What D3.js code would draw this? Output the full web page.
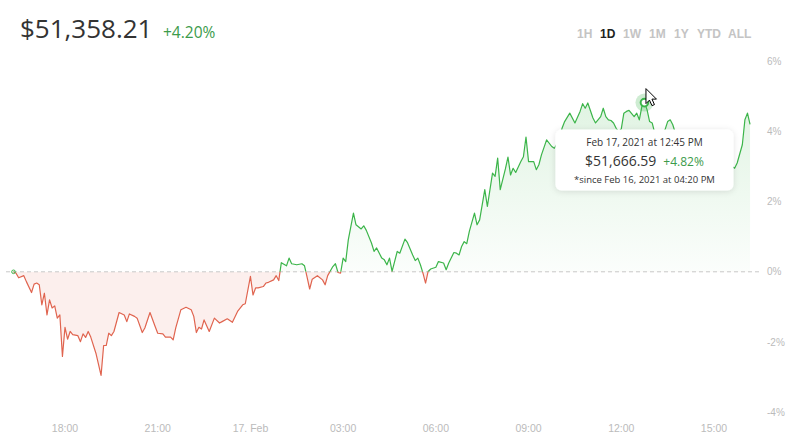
<!DOCTYPE html>
<html>
<head>
<meta charset="utf-8">
<script src="https://cdn.jsdelivr.net/npm/d3@7"></script>
<style>
  body { margin: 0; background: #fff; }
  svg { display: block; }
</style>
</head>
<body>
<div class="chart"></div>
<script>
// set the dimensions of the graph
const width = 796;
const height = 448;

// header values
const currentPrice = "$51,358.21";
const currentChange = 4.20;

// periods shown on the top right
const periods = ["1H", "1D", "1W", "1M", "1Y", "YTD", "ALL"];
const activePeriod = "1D";

// price change (%) since Feb 16, 2021 16:20
const times = [
  "16:20","16:25","16:30","16:40","16:45","16:55","17:00","17:05","17:10","17:15",
  "17:20","17:25","17:30","17:35","17:40","17:45","17:50","17:55","18:00","18:05",
  "18:10","18:15","18:25","18:30","18:35","18:40","18:45","18:50","19:00","19:10",
  "19:15","19:20","19:25","19:30","19:35","19:45","19:55","20:00","20:05","20:15",
  "20:20","20:30","20:35","20:45","20:55","21:00","21:10","21:15","21:25","21:30",
  "21:35","21:45","21:55","22:05","22:10","22:15","22:20","22:25","22:30","22:40",
  "22:50","23:00","23:05","23:15","23:25","23:35","23:45","23:50","00:00","00:05",
  "00:10","00:15","00:25","00:30","00:35","00:45","00:50","00:55","01:00","01:10",
  "01:15","01:20","01:30","01:40","01:45","01:50","01:55","02:00","02:10","02:20",
  "02:25","02:30","02:40","02:45","02:50","02:55","03:00","03:05","03:10","03:20",
  "03:25","03:35","03:40","03:45","03:55","04:00","04:05","04:15","04:20","04:25",
  "04:30","04:35","04:45","04:50","05:00","05:05","05:15","05:20","05:25","05:30",
  "05:35","05:40","05:45","05:50","06:00","06:05","06:15","06:20","06:25","06:35",
  "06:40","06:45","06:50","06:55","07:00","07:05","07:15","07:20","07:25","07:35",
  "07:40","07:50","07:55","08:00","08:05","08:15","08:20","08:25","08:30","08:35",
  "08:45","08:50","08:55","09:00","09:10","09:15","09:20","09:25","09:35","09:45",
  "09:50","10:00","10:05","10:10","10:20","10:30","10:40","10:45","10:50","10:55",
  "11:05","11:10","11:20","11:25","11:30","11:35","11:40","11:45","11:50","11:55",
  "12:00","12:05","12:10","12:15","12:25","12:30","12:35","12:40","12:45","12:50",
  "12:55","13:00","13:05","13:15","13:25","13:30","13:35","13:40","13:45","13:50",
  "14:00","14:10","14:20","14:30","14:40","14:50","15:00","15:10","15:20","15:30",
  "15:40","15:45","15:55","16:00","16:05","16:10"
];
const changes = [
  0.00,-0.04,-0.17,-0.11,-0.28,-0.59,-0.35,-0.32,-0.37,-0.94,
  -0.61,-1.23,-0.80,-1.03,-0.97,-1.32,-1.23,-2.41,-1.58,-1.92,
  -1.70,-1.79,-1.82,-1.99,-1.77,-1.87,-1.70,-1.86,-2.32,-2.95,
  -2.10,-2.10,-1.75,-1.82,-1.70,-1.16,-1.23,-1.42,-1.20,-1.27,
  -1.32,-1.73,-1.60,-1.16,-1.56,-1.75,-1.77,-1.86,-1.86,-1.94,
  -1.60,-1.08,-1.01,-1.08,-1.27,-1.73,-1.58,-1.63,-1.37,-1.70,
  -1.32,-1.46,-1.42,-1.34,-1.44,-1.13,-0.94,-0.91,-0.13,-0.66,
  -0.46,-0.46,-0.42,-0.32,-0.30,-0.23,-0.11,-0.25,0.26,0.17,
  0.39,0.23,0.20,0.23,0.17,-0.15,-0.49,-0.21,-0.11,-0.23,
  -0.37,-0.11,0.15,0.23,-0.02,-0.04,0.39,0.29,0.91,1.67,
  1.34,1.22,1.31,1.18,0.82,0.58,0.68,0.39,0.34,0.20,
  0.39,0.01,0.58,0.53,0.93,0.83,0.48,0.32,0.39,0.20,
  -0.04,-0.32,0.01,0.08,0.13,0.29,0.25,0.06,0.25,0.55,
  0.53,0.48,0.72,0.86,0.80,1.15,1.67,1.34,1.48,2.34,
  1.86,2.81,2.72,3.24,2.34,2.93,3.27,2.76,2.95,2.83,
  3.14,3.28,3.84,3.14,3.14,2.91,3.05,3.33,3.76,3.57,
  3.52,3.75,4.09,4.28,4.52,4.24,4.57,4.79,4.66,4.81,
  4.38,4.24,4.42,4.66,4.42,4.33,4.31,4.24,4.09,3.99,
  4.07,4.52,4.57,4.60,4.42,4.52,4.33,4.71,4.82,4.62,
  4.28,4.24,3.95,3.90,4.05,4.28,4.33,4.19,3.95,3.80,
  3.90,3.65,3.80,3.50,3.65,3.40,3.55,3.25,3.35,3.05,
  2.95,3.10,3.62,4.33,4.52,4.20
];

// hovered point shown in the tooltip
const hoverTime = "12:45";
const hoverPrice = "$51,666.59";

// axis ticks
const yTicks = [-4, -2, 0, 2, 4, 6];
const xTickHours = 3;

// build dates: the day moves on when the clock wraps past midnight
let dayOffset = 0, prevMinutes = -1;
const data = times.map(function(t, i) {
  const [h, m] = t.split(":").map(Number);
  const minutes = h * 60 + m;
  if (minutes < prevMinutes) dayOffset++;
  prevMinutes = minutes;
  return { date: new Date(2021, 1, 16 + dayOffset, h, m), value: changes[i], label: t };
});

const start = data[0].date;
const end = d3.timeHour.offset(start, 24);

const x = d3.scaleTime().domain([start, end]).range([13.5, 755.2]);
const y = d3.scaleLinear().domain([-4, 6]).range([412.2, 61.2]);

const svg = d3.select(".chart")
  .append("svg")
    .attr("width", width)
    .attr("height", height)
    .style("font-family", "'Open Sans', sans-serif");

const defs = svg.append("defs");

// clip areas above and below the zero line
defs.append("clipPath").attr("id", "above")
  .append("rect").attr("x", 0).attr("y", 0).attr("width", width).attr("height", y(0));
defs.append("clipPath").attr("id", "below")
  .append("rect").attr("x", 0).attr("y", y(0)).attr("width", width).attr("height", height - y(0));

const grad = defs.append("linearGradient")
  .attr("id", "greenFill")
  .attr("gradientUnits", "userSpaceOnUse")
  .attr("x1", 0).attr("x2", 0)
  .attr("y1", y(5)).attr("y2", y(0));
grad.append("stop").attr("offset", 0).attr("stop-color", "#3cb54a").attr("stop-opacity", 0.16);
grad.append("stop").attr("offset", 1).attr("stop-color", "#3cb54a").attr("stop-opacity", 0.02);

const shadow = defs.append("filter").attr("id", "shadow")
  .attr("x", "-20%").attr("y", "-30%").attr("width", "140%").attr("height", "160%");
shadow.append("feDropShadow")
  .attr("dx", 0).attr("dy", 1).attr("stdDeviation", 3)
  .attr("flood-color", "#000").attr("flood-opacity", 0.12);

// header
svg.append("text")
  .attr("x", 20).attr("y", 38)
  .attr("font-size", 26)
  .attr("fill", "#333")
  .text(currentPrice);
svg.append("text")
  .attr("x", 163).attr("y", 38)
  .attr("font-size", 15.5)
  .attr("fill", "#3c9b4b")
  .text("+" + currentChange.toFixed(2) + "%");

// period buttons
const periodX = [577, 600, 623, 649, 674, 697, 728];
svg.append("g")
  .selectAll("text")
  .data(periods)
  .join("text")
    .attr("x", function(d, i) { return periodX[i]; })
    .attr("y", 38)
    .attr("font-family", "Arial, 'Liberation Sans', sans-serif")
    .attr("font-weight", "bold")
    .attr("font-size", 12)
    .attr("fill", function(d) { return d === activePeriod ? "#222" : "#c4c4c4"; })
    .text(function(d) { return d; });

// areas
const area = d3.area()
  .x(function(d) { return x(d.date); })
  .y0(y(0))
  .y1(function(d) { return y(d.value); });

svg.append("path")
  .datum(data)
  .attr("clip-path", "url(#above)")
  .attr("fill", "url(#greenFill)")
  .attr("d", area);

svg.append("path")
  .datum(data)
  .attr("clip-path", "url(#below)")
  .attr("fill", "#e8705c")
  .attr("fill-opacity", 0.11)
  .attr("d", area);

// zero line
svg.append("line")
  .attr("x1", 6).attr("x2", 760)
  .attr("y1", y(0)).attr("y2", y(0))
  .attr("stroke", "#c8c8c8")
  .attr("stroke-dasharray", "4,3");

// lines
const line = d3.line()
  .x(function(d) { return x(d.date); })
  .y(function(d) { return y(d.value); });

svg.append("path")
  .datum(data)
  .attr("clip-path", "url(#above)")
  .attr("fill", "none")
  .attr("stroke", "#3cb54a")
  .attr("stroke-width", 1.2)
  .attr("stroke-linejoin", "round")
  .attr("d", line);

svg.append("path")
  .datum(data)
  .attr("clip-path", "url(#below)")
  .attr("fill", "none")
  .attr("stroke", "#e0644f")
  .attr("stroke-width", 1.2)
  .attr("stroke-linejoin", "round")
  .attr("d", line);

// start marker
svg.append("circle")
  .attr("cx", x(data[0].date)).attr("cy", y(data[0].value))
  .attr("r", 1.8)
  .attr("fill", "none")
  .attr("stroke", "#3cb54a")
  .attr("stroke-width", 1);

// y axis labels
svg.append("g")
  .selectAll("text")
  .data(yTicks)
  .join("text")
    .attr("x", 767)
    .attr("y", function(d) { return y(d) + 3.5; })
    .attr("font-family", "Arial, 'Liberation Sans', sans-serif")
    .attr("font-size", 10)
    .attr("fill", "#bbb")
    .text(function(d) { return d + "%"; });

// x axis labels
const xTicks = x.ticks(d3.timeHour.every(xTickHours));
svg.append("g")
  .selectAll("text")
  .data(xTicks)
  .join("text")
    .attr("x", function(d) { return x(d); })
    .attr("y", 432)
    .attr("text-anchor", "middle")
    .attr("font-family", "Arial, 'Liberation Sans', sans-serif")
    .attr("font-size", 10.5)
    .attr("fill", "#bbb")
    .text(function(d) {
      return d.getHours() === 0 ? d3.timeFormat("%-d. %b")(d) : d3.timeFormat("%H:%M")(d);
    });

// hovered point
const hover = data.find(function(d) { return d.label === hoverTime; });
const hx = x(hover.date), hy = y(hover.value);

svg.append("circle")
  .attr("cx", hx).attr("cy", hy).attr("r", 9)
  .attr("fill", "#3cb54a").attr("fill-opacity", 0.25);
svg.append("circle")
  .attr("cx", hx).attr("cy", hy).attr("r", 3.8)
  .attr("fill", "#fff")
  .attr("stroke", "#3cb54a")
  .attr("stroke-width", 2);

// tooltip
const tip = svg.append("g").attr("transform", "translate(" + hx + "," + (hy + 27) + ")");
tip.append("rect")
  .attr("x", -89).attr("y", 0)
  .attr("width", 178).attr("height", 61)
  .attr("rx", 6)
  .attr("fill", "#fff")
  .attr("filter", "url(#shadow)");
tip.append("text")
  .attr("x", 0).attr("y", 16.5)
  .attr("text-anchor", "middle")
  .attr("font-size", 10)
  .attr("fill", "#333")
  .text(d3.timeFormat("%b %d, %Y at %I:%M %p")(hover.date));
const priceLine = tip.append("text")
  .attr("x", 0).attr("y", 36)
  .attr("text-anchor", "middle");
priceLine.append("tspan")
  .attr("font-size", 14)
  .attr("fill", "#333")
  .text(hoverPrice);
priceLine.append("tspan")
  .attr("dx", 7)
  .attr("font-size", 12)
  .attr("fill", "#3c9b4b")
  .text("+" + hover.value.toFixed(2) + "%");
tip.append("text")
  .attr("x", 0).attr("y", 53)
  .attr("text-anchor", "middle")
  .attr("font-size", 9.5)
  .attr("fill", "#333")
  .text("*since " + d3.timeFormat("%b %d, %Y at %I:%M %p")(start));

// mouse cursor
svg.append("path")
  .attr("transform", "translate(" + (hx + 1.5) + "," + (hy - 14) + ")")
  .attr("d", "M0,0 L0,15 L3.5,11.5 L6,17 L8.5,16 L6,10.5 L10.5,10.5 Z")
  .attr("fill", "#fff")
  .attr("stroke", "#000")
  .attr("stroke-width", 1)
  .attr("stroke-linejoin", "round");
</script>
</body>
</html>
